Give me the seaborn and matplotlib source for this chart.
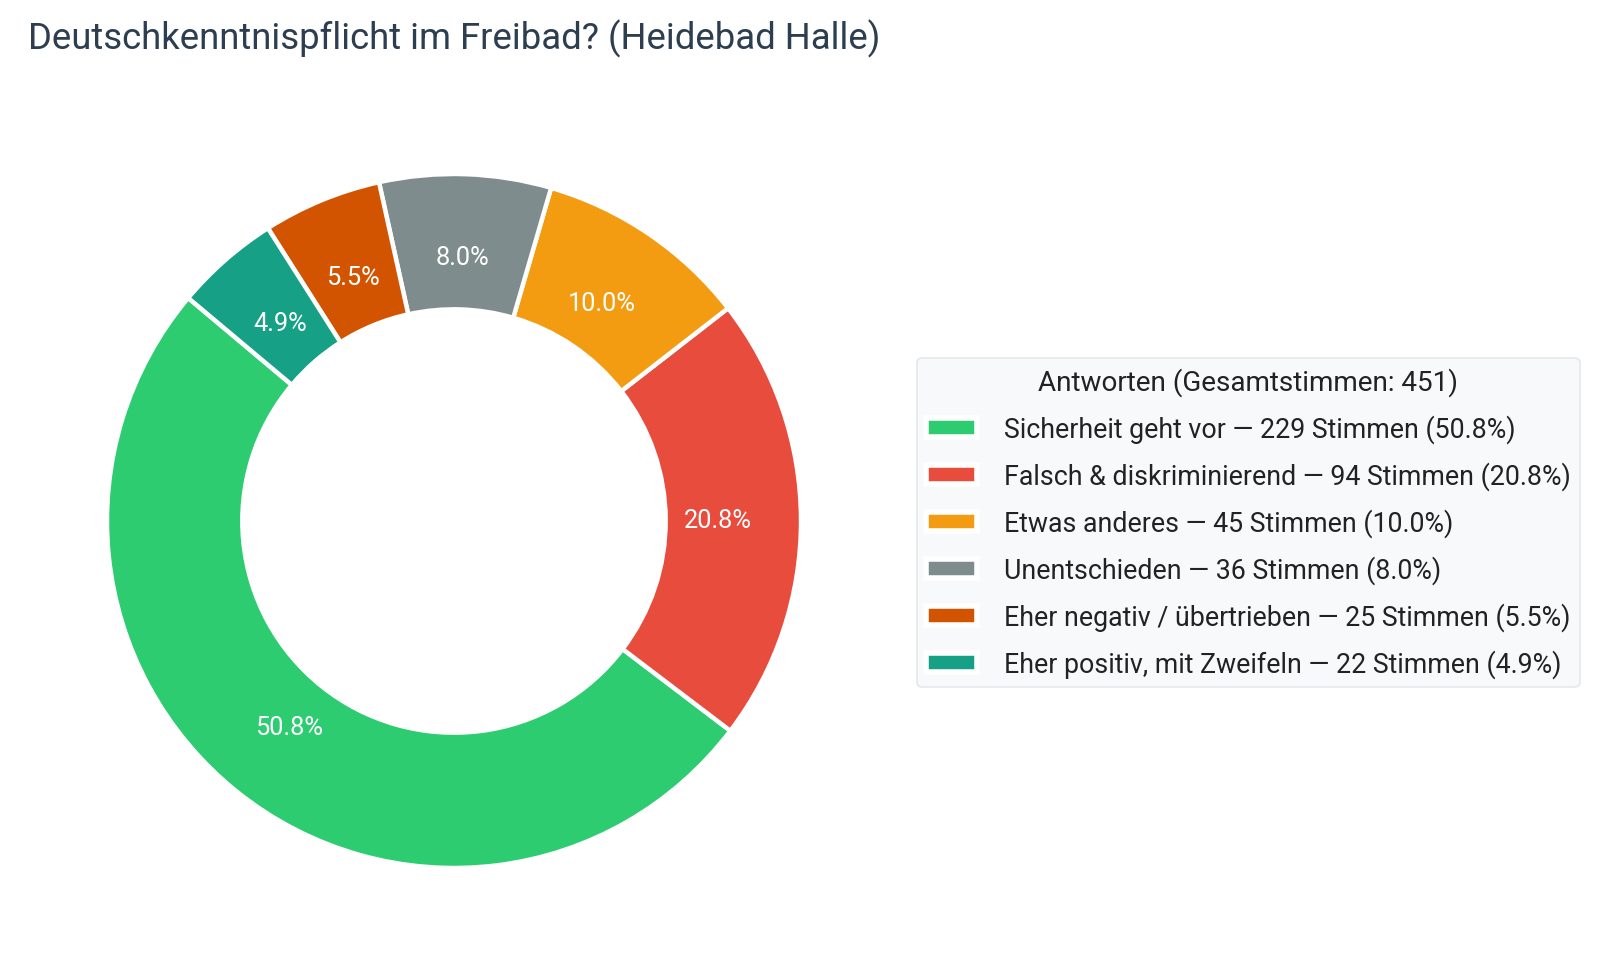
import matplotlib
matplotlib.use('Agg')
import matplotlib.pyplot as plt
import seaborn as sns
from matplotlib.patches import Patch

# ── Data ──────────────────────────────────────────────────────
answers = ['Sicherheit geht vor', 'Falsch & diskriminierend', 'Etwas anderes',
           'Unentschieden', 'Eher negativ / übertrieben', 'Eher positiv, mit Zweifeln']
votes = [229, 94, 45, 36, 25, 22]
colors = ['#2ecc71', '#e74c3c', '#f39c12', '#7f8c8d', '#d35400', '#16a085']

total = sum(votes)
title = 'Deutschkenntnispflicht im Freibad? (Heidebad Halle)'

# ── Style ─────────────────────────────────────────────────────
sns.set_theme(style='white')
plt.rcParams['font.family'] = ['Roboto', 'DejaVu Sans']
palette = sns.color_palette(colors)

W, H = 1600, 978
fig = plt.figure(figsize=(W / 100, H / 100), dpi=100)
fig.patch.set_facecolor('white')

# square axes: donut centre ~ (454, 522) px, radius ~347 px
cx, cy, r = 454, 522, 347
ax = fig.add_axes([(cx - r) / W, 1 - (cy + r) / H, 2 * r / W, 2 * r / H])

wedges, texts, autotexts = ax.pie(
    votes, colors=palette, startangle=140, counterclock=True,
    autopct='%1.1f%%', pctdistance=0.76,
    wedgeprops=dict(width=0.39, edgecolor='white', linewidth=3.2),
    textprops=dict(color='white', fontsize=18.3),
)
ax.set_xlim(-1, 1)
ax.set_ylim(-1, 1)
ax.set_aspect('equal')
ax.axis('off')

fig.text(28 / W, 1 - 49 / H, title, fontsize=26.3, color='#2c3e50',
         ha='left', va='baseline')

# ── Legend ────────────────────────────────────────────────────
handles = [Patch(facecolor=c, edgecolor='white', linewidth=4) for c in colors]
labels = [f'{a} — {v} Stimmen ({v / total * 100:.1f}%)' for a, v in zip(answers, votes)]
leg = fig.legend(handles, labels, loc='upper left',
                 bbox_to_anchor=(917 / W, 1 - 359 / H), borderaxespad=0,
                 title=f'Antworten (Gesamtstimmen: {total})',
                 fontsize=19.3, title_fontsize=20.1, frameon=True, fancybox=True,
                 facecolor='#f8f9fa', edgecolor='#e5e7eb', framealpha=1,
                 handlelength=1.9, handleheight=0.7, handletextpad=0.98,
                 labelspacing=0.68, borderpad=0.35, labelcolor='#222222')
leg.get_frame().set_linewidth(1.2)
leg.get_title().set_color('#222222')

fig.savefig('out.png', dpi=100, facecolor='white')
